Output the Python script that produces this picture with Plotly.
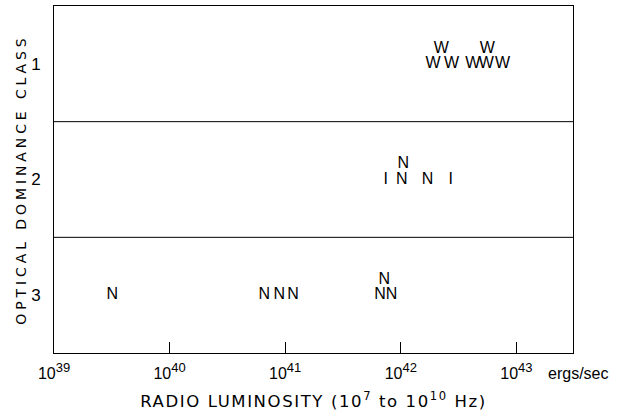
import plotly.graph_objects as go

# Data (luminosity in ergs/sec, class, plotted letter, stack level)
lum_c1 = [1.9e42, 2.24e42, 2.75e42, 4.2e42, 5.5e42, 5.6e42, 7.6e42]
lbl_c1 = ["W", "W", "W", "W", "W", "W", "W"]
stk_c1 = [0, 1, 0, 0, 0, 1, 0]

lum_c2 = [7.4e41, 1.02e42, 1.05e42, 1.7e42, 2.7e42]
lbl_c2 = ["I", "N", "N", "N", "I"]
stk_c2 = [0, 0, 1, 0, 0]

lum_c3 = [3.2e39, 6.6e40, 8.9e40, 1.17e41, 6.6e41, 7.2e41, 8.3e41]
lbl_c3 = ["N", "N", "N", "N", "N", "N", "N"]
stk_c3 = [0, 0, 0, 0, 0, 1, 0]

classes = [1, 2, 3]
tick_exps = [39, 40, 41, 42, 43]

FONT = "Liberation Sans, Arial, sans-serif"
TFONT = "DejaVu Sans, sans-serif"
STACK_STEP = 0.13

fig = go.Figure()
for cls, lum, lbl, stk in [(1, lum_c1, lbl_c1, stk_c1), (2, lum_c2, lbl_c2, stk_c2), (3, lum_c3, lbl_c3, stk_c3)]:
    fig.add_trace(go.Scatter(
        x=lum, y=[cls - STACK_STEP * s for s in stk], text=lbl, mode="text",
        textposition="middle center",
        textfont=dict(family=FONT, size=16, color="black"),
        showlegend=False, hoverinfo="skip"))

for yb in [1.5, 2.5]:
    fig.add_shape(type="line", xref="paper", yref="y", x0=0, x1=1, y0=yb, y1=yb,
                  line=dict(color="black", width=1))

fig.add_annotation(text="ergs/sec", xref="paper", yref="paper", x=(546 - 54) / 519, y=0,
                   xanchor="left", yanchor="top", yshift=-10, showarrow=False,
                   font=dict(family=FONT, size=16, color="black"))

fig.update_layout(
    width=634, height=416,
    margin=dict(l=54, r=61, t=6, b=63),
    paper_bgcolor="white", plot_bgcolor="white",
    font=dict(family=FONT, size=16, color="black"),
    xaxis=dict(type="log", range=[39, 43.49], automargin=False,
               tickvals=[10.0 ** e for e in tick_exps],
               ticktext=["10<sup><span style='font-size:13px'>%d</span></sup>" % e for e in tick_exps],
               tickfont=dict(family=FONT, size=16),
               ticks="inside", ticklen=11, tickcolor="black", tickwidth=1,
               showline=True, mirror=True, linecolor="black", linewidth=1,
               showgrid=False, zeroline=False, ticklabelstandoff=6,
               title=dict(text="RADIO LUMINOSITY (10<sup>7</sup> to 10<sup>10</sup> Hz)",
                          font=dict(family=TFONT, size=16.5), standoff=14)),
    yaxis=dict(range=[3.5, 0.5], automargin=False, tickvals=classes,
               ticktext=[str(c) for c in classes], tickfont=dict(family=FONT, size=17),
               ticks="", showline=True, mirror=True, linecolor="black", linewidth=1,
               showgrid=False, zeroline=False, ticklabelstandoff=9,
               title=dict(text="OPTICAL DOMINANCE CLASS",
                          font=dict(family=TFONT, size=14), standoff=1)),
)

post = """
document.body.style.margin='0';
var gd=document.getElementById('{plot_id}');
function ls(){
  var y=gd.querySelector('.ytitle'); if(y){y.style.letterSpacing='3.9px';}
  var x=gd.querySelector('.xtitle'); if(x){x.style.letterSpacing='1.6px';}
}
ls(); if(gd.on){gd.on('plotly_afterplot', ls);}
"""

fig.write_html("out.html", post_script=post, config={"displayModeBar": False})
